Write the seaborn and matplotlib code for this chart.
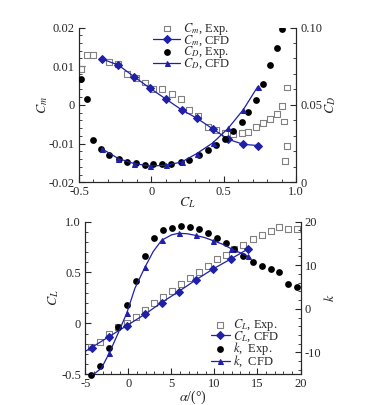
import numpy as np
import pandas as pd
import matplotlib
matplotlib.use('Agg')
import matplotlib.pyplot as plt
import seaborn as sns
from matplotlib.ticker import MultipleLocator

# ---- top panel: Cm and CD against CL ----
cm_exp_cl = [-0.486, -0.447, -0.405, -0.291, -0.228, -0.170, -0.106, -0.044, 0.014, 0.076,
             0.141, 0.203, 0.260, 0.325, 0.389, 0.447, 0.509, 0.567, 0.625, 0.670,
             0.723, 0.774, 0.820, 0.867, 0.901, 0.940, 0.917, 0.936, 0.924]
cm_exp = [0.0092, 0.0129, 0.0129, 0.0110, 0.0106, 0.0080, 0.0069, 0.0058, 0.0041, 0.0041,
          0.0028, 0.0016, -0.0013, -0.0028, -0.0056, -0.0065, -0.0072, -0.0075, -0.0073, -0.0071,
          -0.0058, -0.0046, -0.0036, -0.0024, -0.0002, 0.0045, -0.0043, -0.0106, -0.0144]

cd_exp_cl = [-0.486, -0.447, -0.403, -0.348, -0.291, -0.224, -0.170, -0.106, -0.042, 0.014,
             0.076, 0.138, 0.203, 0.262, 0.326, 0.389, 0.449, 0.509, 0.567, 0.623,
             0.670, 0.723, 0.772, 0.820, 0.866, 0.906]
cd_exp = [0.0670, 0.0535, 0.0276, 0.0217, 0.0179, 0.0153, 0.0131, 0.0123, 0.0114, 0.0116,
          0.0116, 0.0116, 0.0130, 0.0147, 0.0177, 0.0208, 0.0241, 0.0281, 0.0333, 0.0392,
          0.0452, 0.0532, 0.0638, 0.0757, 0.0865, 0.0989]

cfd_cl = [-0.343, -0.228, -0.120, -0.009, 0.101, 0.210, 0.313, 0.424, 0.532, 0.636, 0.735]
cm_cfd = [0.0119, 0.0103, 0.0073, 0.0043, 0.0015, -0.0013, -0.0034, -0.0062, -0.0089, -0.0102, -0.0105]
cd_cfd = [0.0217, 0.0153, 0.0121, 0.0105, 0.0110, 0.0131, 0.0185, 0.0254, 0.0350, 0.0470, 0.0618]

# ---- bottom panel: CL and k against alpha ----
alpha_exp = [-4.36, -3.28, -2.23, -1.26, -0.21, 0.87, 1.92, 2.97, 3.98, 5.02, 6.10, 7.15,
             8.20, 9.27, 10.26, 11.30, 12.30, 13.35, 14.44, 15.49, 16.53, 17.53, 18.58, 19.56]
cl_exp = [-0.235, -0.180, -0.107, -0.040, 0.007, 0.066, 0.132, 0.200, 0.263, 0.319, 0.384, 0.443,
          0.508, 0.567, 0.630, 0.673, 0.729, 0.771, 0.827, 0.869, 0.909, 0.945, 0.925, 0.925]
k_exp = [-15.1, -13.1, -9.0, -4.2, 0.9, 6.4, 12.0, 16.3, 18.1, 18.6, 19.0, 18.7,
         18.3, 17.3, 16.2, 15.1, 13.7, 12.0, 10.8, 9.9, 9.2, 8.4, 5.7, 5.0]

# CFD lift line (first point is where the line leaves the left edge)
cl_line_alpha = [-5.0, -4.28, -2.23, -0.17, 1.92, 3.86, 5.84, 7.85, 9.86, 11.92, 13.93]
cl_line = [-0.275, -0.238, -0.130, -0.022, 0.089, 0.204, 0.312, 0.427, 0.535, 0.633, 0.732]
cl_marks = [1, 2, 3, 4, 5, 6, 7, 8, 9, 10]

# CFD k curve; marked points listed in k_marks
k_line_alpha = [-4.28, -3.12, -2.23, -1.19, -0.17, 0.76, 1.92, 2.88, 3.86, 5.02, 5.84, 6.84,
                7.85, 8.90, 9.86, 10.95, 11.92, 13.93]
k_line = [-15.4, -13.6, -10.2, -5.6, -0.9, 4.7, 9.5, 13.1, 15.7, 16.95, 17.3, 17.2,
          16.8, 16.3, 15.6, 14.8, 13.8, 12.0]
k_marks = [0, 2, 4, 6, 8, 10, 12, 14, 16, 17]

blue = '#1f1fa8'
grey = '#808080'

sns.set_style('ticks')
plt.rcParams['font.family'] = ['Liberation Serif', 'DejaVu Serif']
plt.rcParams['mathtext.fontset'] = 'stix'
plt.rcParams['axes.unicode_minus'] = False
plt.rcParams['xtick.direction'] = 'in'
plt.rcParams['ytick.direction'] = 'in'
plt.rcParams['font.size'] = 9
plt.rcParams['axes.linewidth'] = 0.8
plt.rcParams['xtick.major.size'] = 4
plt.rcParams['ytick.major.size'] = 4
plt.rcParams['xtick.minor.size'] = 2
plt.rcParams['ytick.minor.size'] = 2
plt.rcParams['xtick.major.pad'] = 2.5
plt.rcParams['ytick.major.pad'] = 3

fig = plt.figure(figsize=(3.71, 4.05), dpi=100)

# ================= top =================
ax1 = fig.add_axes([0.213, 0.550, 0.585, 0.382])
ax1b = ax1.twinx()

sns.scatterplot(x=cm_exp_cl, y=cm_exp, ax=ax1, marker='s', s=18, facecolors='none',
                edgecolors=grey, linewidth=0.8, label=r'$C_m$, Exp.', legend=False, zorder=3)
sns.lineplot(x=cfd_cl, y=cm_cfd, ax=ax1, color=blue, lw=0.9, marker='D', markersize=3.6,
             markeredgecolor=blue, label=r'$C_m$, CFD', legend=False, zorder=4)
sns.scatterplot(x=cd_exp_cl, y=cd_exp, ax=ax1b, marker='o', s=24, color='black',
                edgecolor='black', linewidth=0, label=r'$C_D$, Exp.', legend=False, zorder=3)
sns.lineplot(x=cfd_cl, y=cd_cfd, ax=ax1b, color=blue, lw=0.9, marker='^', markersize=3.6,
             markeredgecolor=blue, label=r'$C_D$, CFD', legend=False, zorder=4)

ax1.set_xlim(-0.5, 1.0)
ax1.set_ylim(-0.02, 0.02)
ax1b.set_ylim(0, 0.10)
ax1.set_xticks([-0.5, 0, 0.5, 1.0])
ax1.set_xticklabels(['-0.5', '0', '0.5', '1.0'])
ax1.set_yticks([-0.02, -0.01, 0, 0.01, 0.02])
ax1.set_yticklabels(['-0.02', '-0.01', '0', '0.01', '0.02'])
ax1b.set_yticks([0, 0.05, 0.10])
ax1b.set_yticklabels(['0', '0.05', '0.10'])
ax1.xaxis.set_minor_locator(MultipleLocator(0.1))
ax1.yaxis.set_minor_locator(MultipleLocator(0.002))
ax1b.yaxis.set_minor_locator(MultipleLocator(0.01))
ax1.set_xlabel(r'$C_L$', fontsize=10, labelpad=-2)
ax1.set_ylabel(r'$C_m$', fontsize=10, labelpad=-1)
ax1b.set_ylabel(r'$C_D$', fontsize=10, labelpad=1)

h1, l1 = ax1.get_legend_handles_labels()
h2, l2 = ax1b.get_legend_handles_labels()
ax1b.legend(h1 + h2, l1 + l2, loc='upper left', bbox_to_anchor=(0.396, 0.964),
            bbox_transform=fig.transFigure, frameon=False, fontsize=9, borderpad=0,
            labelspacing=-0.28, handlelength=2.15, handletextpad=0.25)

# ================= bottom =================
ax2 = fig.add_axes([0.230, 0.076, 0.580, 0.377])
ax2b = ax2.twinx()

sns.scatterplot(x=alpha_exp, y=cl_exp, ax=ax2, marker='s', s=18, facecolors='none',
                edgecolors=grey, linewidth=0.8, label=r'$C_L$, Exp.', legend=False, zorder=3)
sns.lineplot(x=cl_line_alpha, y=cl_line, ax=ax2, color=blue, lw=0.9, marker='D', markersize=3.6,
             markevery=cl_marks, markeredgecolor=blue, label=r'$C_L$, CFD', legend=False, zorder=4)
sns.scatterplot(x=alpha_exp, y=k_exp, ax=ax2b, marker='o', s=24, color='black',
                edgecolor='black', linewidth=0, label=r'$k$,  Exp.', legend=False, zorder=3,
                clip_on=False)
sns.lineplot(x=k_line_alpha, y=k_line, ax=ax2b, color=blue, lw=0.9, marker='^', markersize=3.6,
             markevery=k_marks, markeredgecolor=blue, label=r'$k$,  CFD', legend=False, zorder=4)

ax2.set_xlim(-5, 20)
ax2.set_ylim(-0.5, 1.0)
ax2b.set_ylim(-15, 20)
ax2.set_xticks([-5, 0, 5, 10, 15, 20])
ax2.set_xticklabels(['-5', '0', '5', '10', '15', '20'])
ax2.set_yticks([-0.5, 0, 0.5, 1.0])
ax2.set_yticklabels(['-0.5', '0', '0.5', '1.0'])
ax2b.set_yticks([-10, 0, 10, 20])
ax2b.set_yticklabels(['-10', '0', '10', '20'])
ax2.xaxis.set_minor_locator(MultipleLocator(1))
ax2.yaxis.set_minor_locator(MultipleLocator(0.1))
ax2b.yaxis.set_minor_locator(MultipleLocator(2))
ax2.set_xlabel(r'$\alpha$/(°)', fontsize=10, labelpad=-1)
ax2.set_ylabel(r'$C_L$', fontsize=10, labelpad=0)
ax2b.set_ylabel(r'$k$', fontsize=10, labelpad=1)

h1, l1 = ax2.get_legend_handles_labels()
h2, l2 = ax2b.get_legend_handles_labels()
ax2b.legend(h1 + h2, l1 + l2, loc='upper left', bbox_to_anchor=(0.551, 0.233),
            bbox_transform=fig.transFigure, frameon=False, fontsize=9, borderpad=0,
            labelspacing=-0.28, handlelength=1.55, handletextpad=0.25)

for a in (ax1, ax1b, ax2, ax2b):
    a.spines['top'].set_visible(False)
ax1.tick_params(right=False)
ax2.tick_params(right=False)

fig.savefig('out.png', dpi=100)
